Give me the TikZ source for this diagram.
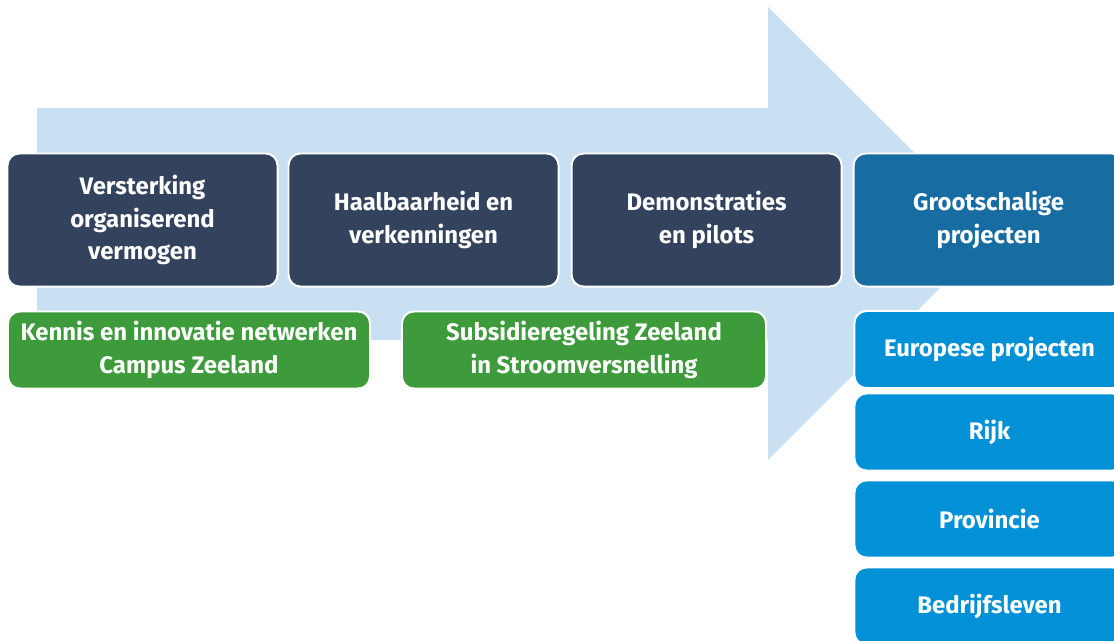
\documentclass[tikz,border=0pt]{standalone}
\usepackage{fontspec}
\setmainfont{Fira Sans}
\usetikzlibrary{positioning}
\definecolor{navy}{HTML}{33435E}
\definecolor{sea}{HTML}{176CA1}
\definecolor{sky}{HTML}{0290D6}
\definecolor{leaf}{HTML}{3D9B3C}
\definecolor{pale}{HTML}{C9DFF2}
\tikzstyle{phase} = [rectangle, rounded corners=0.3cm, draw=white, line width=1.4pt,
   text=white, align=center, font=\fontsize{17}{23}\selectfont\bfseries,
   minimum width=6.75cm, minimum height=3.325cm, inner sep=0]
\tikzstyle{tool} = [phase, minimum height=1.925cm]

\begin{document}
\begin{tikzpicture}[x=0.025cm, y=-0.025cm]
 				 \useasboundingbox (0,0) rectangle (1114,640);
 				 \clip (0,0) rectangle (1114,640);
 				 % big background arrow
 				 \fill[pale] (37,108) -- (768,108) -- (768,7) -- (995,233) -- (768,460) -- (768,340) -- (37,340) -- cycle;

 				 % phases
 				 \node[phase, fill=navy] (a) at (142.5,220) {Versterking\\organiserend\\vermogen};
 				 \node[phase, fill=navy, right=0.225cm of a] (b) {Haalbaarheid en\\verkenningen};
 				 \node[phase, fill=navy, right=0.275cm of b] (c) {Demonstraties\\en pilots};
 				 \node[phase, fill=sea, right=0.25cm of c] (d) {Grootschalige\\projecten};

 				 % instruments below
 				 \node[tool, fill=leaf, minimum width=9.05cm] (g1) at (189,350) {Kennis en innovatie netwerken\\Campus Zeeland};
 				 \node[tool, fill=leaf, minimum width=9.1cm] (g2) at (584,350) {Subsidieregeling Zeeland\\in Stroomversnelling};

 				 % funding column
 				 \node[tool, fill=sky] (r1) at (989.5,349.5) {Europese projecten};
 				 \node[tool, fill=sky] (r2) at (989.5,432) {Rijk};
 				 \node[tool, fill=sky] (r3) at (989.5,519) {Provincie};
 				 \node[tool, fill=sky] (r4) at (989.5,606) {Bedrijfsleven};
			\end{tikzpicture}
\end{document}
